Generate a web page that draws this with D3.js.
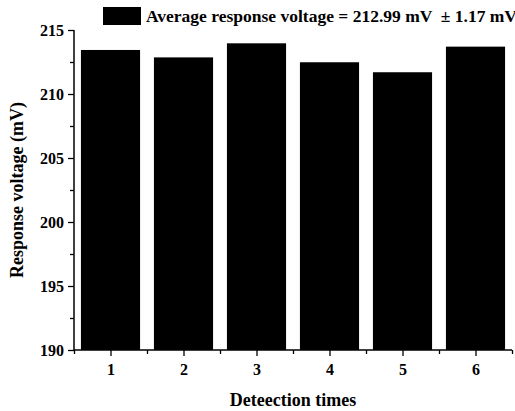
<!DOCTYPE html>
<html>
<head>
<meta charset="utf-8">
<script src="https://cdn.jsdelivr.net/npm/d3@7"></script>
<style>
    body { margin: 0; background: #fff; }
    text { font-family: "Liberation Serif", "Times New Roman", serif; font-weight: bold; fill: #000; }
</style>
</head>
<body>
<div id="chart"></div>
<script>
// Detection data
const detections = [1, 2, 3, 4, 5, 6];
const voltages = [213.44, 212.86, 213.96, 212.48, 211.70, 213.70];
const yTicks = [190, 195, 200, 205, 210, 215];
const yMinorTicks = [192.5, 197.5, 202.5, 207.5, 212.5];
const xMinorTicks = [0.5, 1.5, 2.5, 3.5, 4.5, 5.5, 6.5];
const legendLabel = "Average response voltage = 212.99 mV  \u00b1 1.17 mV";

const width = 515, height = 411;
const margin = { top: 30, right: 3, bottom: 61, left: 74 };

const svg = d3.select("#chart")
    .append("svg")
    .attr("width", width)
    .attr("height", height);

const x = d3.scaleLinear()
    .domain([0.5, 6.5])
    .range([margin.left, width - margin.right]);

const y = d3.scaleLinear()
    .domain([190, 215])
    .range([height - margin.bottom, margin.top]);

const barWidth = (x(1) - x(0)) * 0.81;

// Bars
svg.append("g")
    .selectAll("rect")
    .data(detections)
    .enter().append("rect")
    .attr("x", (d, i) => x(d) - barWidth / 2)
    .attr("y", (d, i) => y(voltages[i]))
    .attr("width", barWidth)
    .attr("height", (d, i) => y(190) - y(voltages[i]))
    .attr("fill", "#000");

// Y axis
const yAxis = svg.append("g")
    .attr("transform", `translate(${margin.left},0)`)
    .call(d3.axisLeft(y).tickValues(yTicks).tickSize(6).tickPadding(4).tickFormat(d3.format("d")));
svg.append("g")
    .attr("transform", `translate(${margin.left},0)`)
    .call(d3.axisLeft(y).tickValues(yMinorTicks).tickSize(4).tickFormat(""))
    .select(".domain").remove();

// X axis
const xAxis = svg.append("g")
    .attr("transform", `translate(0,${y(190)})`)
    .call(d3.axisBottom(x).tickValues(detections).tickSize(6).tickPadding(8).tickFormat(d3.format("d")));
svg.append("g")
    .attr("transform", `translate(0,${y(190)})`)
    .call(d3.axisBottom(x).tickValues(xMinorTicks).tickSize(4).tickFormat(""))
    .select(".domain").remove();

svg.selectAll(".domain").attr("stroke-width", 1.5);
svg.selectAll(".tick line").attr("stroke-width", 1.3);
[yAxis, xAxis].forEach(a => {
    a.selectAll("text").style("font-size", "16px").style("font-family", "'Liberation Serif', serif").style("font-weight", "bold");
    a.select(".domain").attr("d", a === yAxis
        ? `M0,${y(190)}V${y(215)}`
        : `M${x(0.5)},0H${x(6.5)}`);
});

// Axis titles
svg.append("text")
    .attr("x", (x(0.5) + x(6.5)) / 2)
    .attr("y", 406)
    .attr("text-anchor", "middle")
    .style("font-size", "18px")
    .text("Deteection times");

svg.append("text")
    .attr("transform", `translate(23,${(y(190) + y(215)) / 2}) rotate(-90)`)
    .attr("text-anchor", "middle")
    .style("font-size", "18px")
    .text("Response voltage (mV)");

// Legend
svg.append("rect")
    .attr("x", 103).attr("y", 7)
    .attr("width", 38).attr("height", 18)
    .attr("fill", "#000");
svg.append("text")
    .attr("x", 146).attr("y", 22)
    .style("font-size", "17.5px")
    .style("white-space", "pre")
    .text(legendLabel);
</script>
</body>
</html>
